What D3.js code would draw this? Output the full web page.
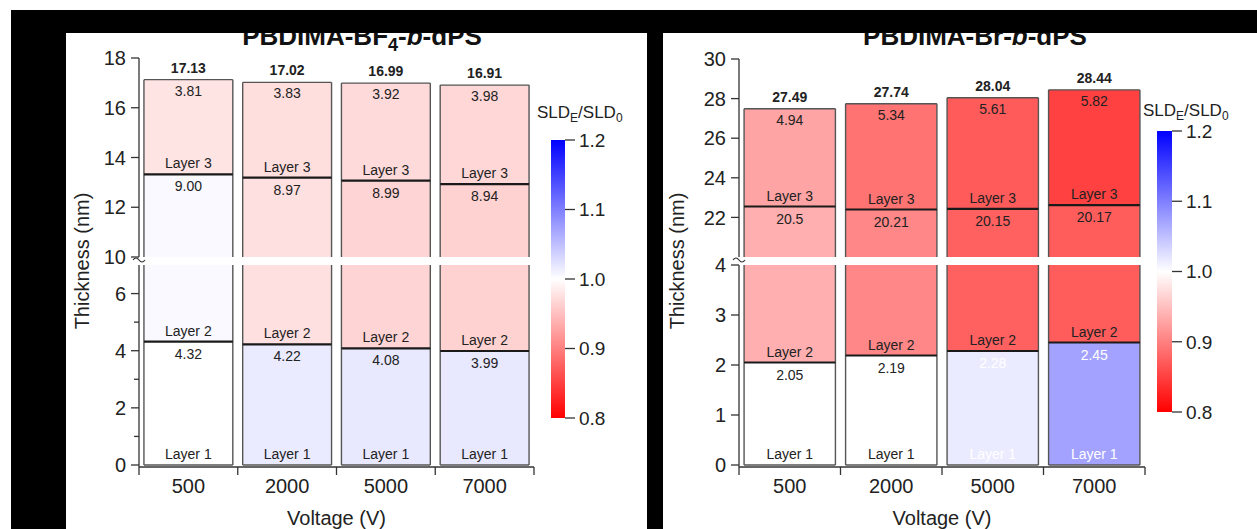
<!DOCTYPE html>
<html><head><meta charset="utf-8">
<script src="https://cdn.jsdelivr.net/npm/d3@7"></script>
<style>body{margin:0;background:#fff}svg{display:block}text{font-family:"Liberation Sans",Arial,sans-serif}</style>
</head><body><svg id="c" width="1257" height="529"></svg>
<script>
// ---------- DATA ----------
const voltages = ["500", "2000", "5000", "7000"];

// PBDIMA-BF4-b-dPS
const bf4Layer1 = [4.32, 4.22, 4.08, 3.99];
const bf4Layer2 = [9.00, 8.97, 8.99, 8.94];
const bf4Layer3 = [3.81, 3.83, 3.92, 3.98];
const bf4Total = [17.13, 17.02, 16.99, 16.91];
const bf4Layer1Text = ["4.32", "4.22", "4.08", "3.99"];
const bf4Layer2Text = ["9.00", "8.97", "8.99", "8.94"];
const bf4Layer3Text = ["3.81", "3.83", "3.92", "3.98"];
const bf4TotalText = ["17.13", "17.02", "16.99", "16.91"];
const bf4Sld1 = [1.000, 1.016, 1.018, 1.018];
const bf4Sld2 = [1.005, 0.976, 0.966, 0.965];
const bf4Sld3 = [0.979, 0.974, 0.971, 0.969];
const bf4UpperTicks = [10, 12, 14, 16, 18];
const bf4LowerTicks = [0, 2, 4, 6];
const bf4LowerMinor = [1, 3, 5];

// PBDIMA-Br-b-dPS
const brLayer1 = [2.05, 2.19, 2.28, 2.45];
const brLayer2 = [20.5, 20.21, 20.15, 20.17];
const brLayer3 = [4.94, 5.34, 5.61, 5.82];
const brTotal = [27.49, 27.74, 28.04, 28.44];
const brLayer1Text = ["2.05", "2.19", "2.28", "2.45"];
const brLayer2Text = ["20.5", "20.21", "20.15", "20.17"];
const brLayer3Text = ["4.94", "5.34", "5.61", "5.82"];
const brTotalText = ["27.49", "27.74", "28.04", "28.44"];
const brSld1 = [1.000, 1.000, 1.016, 1.072];
const brSld2 = [0.937, 0.906, 0.875, 0.872];
const brSld3 = [0.929, 0.890, 0.871, 0.851];
const brLayer1Light = [false, false, true, true];
const brUpperTicks = [22, 24, 26, 28, 30];
const brLowerTicks = [0, 1, 2, 3, 4];

const sldTicks = [0.8, 0.9, 1.0, 1.1, 1.2];

// ---------- DRAW ----------
const svg = d3.select("#c");
const FONT = '"Liberation Sans", Arial, sans-serif';
svg.append("rect").attr("width", 1257).attr("height", 529).attr("fill", "#fff");

const sldColor = d3.scaleLinear().domain([0.8, 1.0, 1.2])
  .range(["#ff0000", "#ffffff", "#0000ff"]).interpolate(d3.interpolateRgb).clamp(true);

const defs = svg.append("defs");
const grad = defs.append("linearGradient").attr("id", "sldGrad")
  .attr("x1", 0).attr("y1", 1).attr("x2", 0).attr("y2", 0);
sldTicks.forEach((t, i) => grad.append("stop")
  .attr("offset", (i / (sldTicks.length - 1))).attr("stop-color", sldColor(t)));

function drawPanel(cfg) {
  const g = svg.append("g");
  const x = d3.scaleBand().domain(voltages).range([cfg.x0, cfg.x1])
    .paddingInner(0.1).paddingOuter(0.05);
  const yU = d3.scaleLinear().domain(cfg.upper).range([cfg.yUb, cfg.yUt]);
  const yL = d3.scaleLinear().domain(cfg.lower).range([cfg.yLb, cfg.yLt]);
  const segs = [{s: yL, lo: cfg.lower[0], hi: cfg.lower[1]}, {s: yU, lo: cfg.upper[0], hi: cfg.upper[1]}];
  const ypos = v => {
    for (const sg of segs) if (v >= sg.lo && v <= sg.hi) return sg.s(v);
    return null;
  };

  voltages.forEach((v, i) => {
    const bx = x(v), bw = x.bandwidth();
    const l1 = cfg.l1[i], l2 = cfg.l2[i], tot = cfg.total[i];
    const b1 = l1, b2 = l1 + l2;
    const layers = [[0, b1, cfg.s1[i]], [b1, b2, cfg.s2[i]], [b2, tot, cfg.s3[i]]];
    // fills
    layers.forEach(([a, b, s]) => {
      segs.forEach(sg => {
        const ya = Math.max(a, sg.lo), yb = Math.min(b, sg.hi);
        if (yb > ya) g.append("rect").attr("x", bx).attr("width", bw)
          .attr("y", sg.s(yb)).attr("height", sg.s(ya) - sg.s(yb)).attr("fill", sldColor(s));
      });
    });
    // outline sides
    segs.forEach(sg => {
      const ya = Math.max(0, sg.lo), yb = Math.min(tot, sg.hi);
      if (yb > ya) {
        [bx, bx + bw].forEach(xx => g.append("line").attr("x1", xx).attr("x2", xx)
          .attr("y1", sg.s(ya)).attr("y2", sg.s(yb)).attr("stroke", "#555").attr("stroke-width", 1.4));
      }
    });
    // top and bottom
    [[tot, 1.4, "#555"], [0, 1.4, "#555"], [b1, 2.2, "#1a1a1a"], [b2, 2.2, "#1a1a1a"]].forEach(([val, w, c]) => {
      const yy = ypos(val);
      if (yy !== null) g.append("line").attr("x1", bx).attr("x2", bx + bw)
        .attr("y1", yy).attr("y2", yy).attr("stroke", c).attr("stroke-width", w);
    });
    // labels
    const cx = bx + bw / 2;
    const lab = (val, off, txt, bold, fill) => {
      g.append("text").attr("x", cx).attr("y", ypos(val) + off).attr("dy", "0.36em")
        .attr("text-anchor", "middle").attr("font-size", cfg.lblSize).attr("font-weight", bold ? "bold" : "normal")
        .attr("fill", fill || "#222").text(txt);
    };
    const l1fill = cfg.l1Light && cfg.l1Light[i] ? "#ffffff" : "#222";
    lab(tot, -12, cfg.totalText[i], true);
    lab(tot, 11, cfg.l3Text[i], false);
    lab(b2, -11, "Layer 3", false);
    lab(b2, 12, cfg.l2Text[i], false);
    lab(b1, -11, "Layer 2", false);
    lab(b1, 12, cfg.l1Text[i], false, l1fill);
    lab(0, -11, "Layer 1", false, l1fill);
  });

  // y axis
  const ax = cfg.x0;
  const axc = "#333";
  g.append("line").attr("x1", ax).attr("x2", ax).attr("y1", yU(cfg.upper[1])).attr("y2", yU(cfg.upper[0]))
    .attr("stroke", axc).attr("stroke-width", 1.3);
  g.append("line").attr("x1", ax).attr("x2", ax).attr("y1", yL(cfg.lower[1])).attr("y2", yL(cfg.lower[0]) + 2)
    .attr("stroke", axc).attr("stroke-width", 1.3);
  // break mark
  const gy = (yU(cfg.upper[0]) + yL(cfg.lower[1])) / 2;
  g.append("path").attr("d", `M${ax - 6},${gy - 1} q3,-4 6,0 t6,0`)
    .attr("fill", "none").attr("stroke", axc).attr("stroke-width", 1.2);

  const yTick = (s, vals, len, label) => {
    vals.forEach(t => {
      g.append("line").attr("x1", ax - len).attr("x2", ax).attr("y1", s(t)).attr("y2", s(t))
        .attr("stroke", axc).attr("stroke-width", 1.3);
      if (label) g.append("text").attr("x", ax - 13).attr("y", s(t)).attr("dy", "0.36em")
        .attr("text-anchor", "end").attr("font-size", 20).attr("fill", "#222").text(t);
    });
  };
  yTick(yU, cfg.upperTicks, 8, true);
  yTick(yL, cfg.lowerTicks, 8, true);
  if (cfg.lowerMinor) yTick(yL, cfg.lowerMinor, 5, false);

  // x axis
  const xy = yL(cfg.lower[0]) + 2;
  g.append("line").attr("x1", ax).attr("x2", cfg.x1).attr("y1", xy).attr("y2", xy)
    .attr("stroke", axc).attr("stroke-width", 1.3);
  const n = voltages.length;
  for (let i = 0; i <= n; i++) {
    const tx = cfg.x0 + i * (cfg.x1 - cfg.x0) / n;
    g.append("line").attr("x1", tx).attr("x2", tx).attr("y1", xy).attr("y2", xy + 8)
      .attr("stroke", axc).attr("stroke-width", 1.3);
  }
  voltages.forEach(v => g.append("text").attr("x", x(v) + x.bandwidth() / 2).attr("y", xy + 19)
    .attr("dy", "0.36em").attr("text-anchor", "middle").attr("font-size", 20).attr("fill", "#222").text(v));
  g.append("text").attr("x", (cfg.x0 + cfg.x1) / 2).attr("y", 518).attr("dy", "0.36em")
    .attr("text-anchor", "middle").attr("font-size", 20).attr("fill", "#222").text("Voltage (V)");
  g.append("text").attr("transform", `translate(${cfg.ytx},261) rotate(-90)`).attr("dy", "0.36em")
    .attr("text-anchor", "middle").attr("font-size", 20).attr("fill", "#222").text("Thickness (nm)");

  // title
  const tt = g.append("text").attr("x", cfg.titleX).attr("y", 45).attr("text-anchor", "middle")
    .attr("font-size", 26).attr("font-weight", "bold").attr("fill", "#111");
  cfg.title.forEach(p => {
    const ts = tt.append("tspan").text(p.t);
    if (p.sub) ts.attr("font-size", 18).attr("dy", 6);
    if (p.up) ts.attr("dy", -6);
    if (p.it) ts.attr("font-style", "italic");
  });

  // colorbar
  const cb = cfg.cb;
  const cs = d3.scaleLinear().domain([0.8, 1.2]).range([cb.y08, cb.y12]);
  g.append("rect").attr("x", cb.x).attr("y", cs(1.2)).attr("width", cb.w).attr("height", cs(0.8) - cs(1.2))
    .attr("fill", "url(#sldGrad)");
  sldTicks.forEach(t => {
    g.append("line").attr("x1", cb.x + cb.w).attr("x2", cb.x + cb.w + 10).attr("y1", cs(t)).attr("y2", cs(t))
      .attr("stroke", "#333").attr("stroke-width", 1.3);
    g.append("text").attr("x", cb.x + cb.w + 14).attr("y", cs(t)).attr("dy", "0.36em")
      .attr("font-size", 19).attr("fill", "#222").text(t.toFixed(1));
  });
  const ct = g.append("text").attr("x", cb.tx).attr("y", cb.ty).attr("font-size", 17).attr("fill", "#222");
  ct.append("tspan").text("SLD");
  ct.append("tspan").text("E").attr("font-size", 12).attr("dy", 4);
  ct.append("tspan").text("/SLD").attr("dy", -4);
  ct.append("tspan").text("0").attr("font-size", 12).attr("dy", 4);
}

drawPanel({
  x0: 139, x1: 534, upper: [10, 18], lower: [0, 7],
  yUt: 58, yUb: 257, yLt: 265, yLb: 465,
  l1: bf4Layer1, l2: bf4Layer2, total: bf4Total,
  s1: bf4Sld1, s2: bf4Sld2, s3: bf4Sld3,
  l1Text: bf4Layer1Text, l2Text: bf4Layer2Text, l3Text: bf4Layer3Text, totalText: bf4TotalText,
  upperTicks: bf4UpperTicks, lowerTicks: bf4LowerTicks, lowerMinor: bf4LowerMinor,
  lblSize: 14, ytx: 82, titleX: 362,
  title: [{t: "PBDIMA-BF"}, {t: "4", sub: true}, {t: "-", up: true}, {t: "b", it: true}, {t: "-dPS"}],
  cb: {x: 551, w: 14, y12: 140, y08: 418, tx: 537, ty: 118}
});
drawPanel({
  x0: 739, x1: 1145, upper: [20, 30], lower: [0, 4],
  yUt: 59, yUb: 257, yLt: 265, yLb: 465,
  l1: brLayer1, l2: brLayer2, total: brTotal,
  s1: brSld1, s2: brSld2, s3: brSld3,
  l1Text: brLayer1Text, l2Text: brLayer2Text, l3Text: brLayer3Text, totalText: brTotalText,
  l1Light: brLayer1Light,
  upperTicks: brUpperTicks, lowerTicks: brLowerTicks,
  lblSize: 14, ytx: 677, titleX: 975,
  title: [{t: "PBDIMA-Br-"}, {t: "b", it: true}, {t: "-dPS"}],
  cb: {x: 1157, w: 15, y12: 131, y08: 412, tx: 1143, ty: 116}
});

// black frame
const frame = svg.append("g").attr("fill", "#000");
frame.append("rect").attr("x", 11).attr("y", 10).attr("width", 1246).attr("height", 23);
frame.append("rect").attr("x", 11).attr("y", 10).attr("width", 55).attr("height", 519);
frame.append("rect").attr("x", 647).attr("y", 10).attr("width", 16).attr("height", 519);
</script></body></html>
